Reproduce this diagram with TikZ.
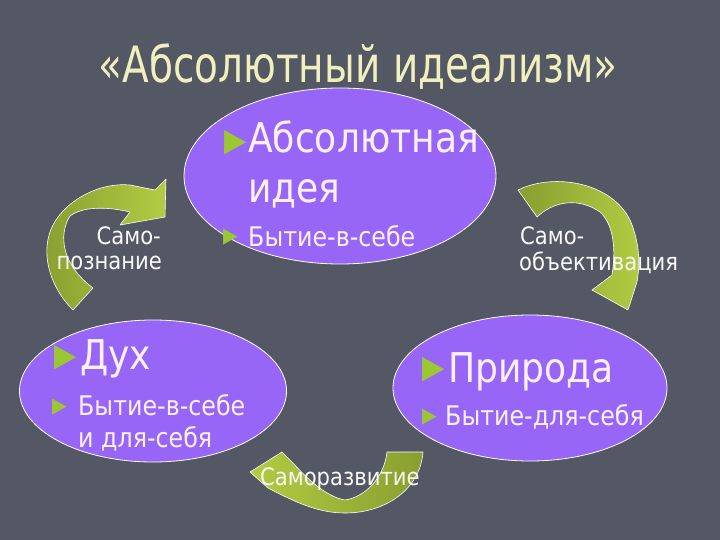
\documentclass[tikz,border=0pt]{standalone}
\usepackage{graphicx}
\usepackage{fontspec}
\setmainfont{DejaVu Sans}[FakeStretch=0.88]
\newfontfamily\titlefont{DejaVu Sans}[FakeStretch=0.78]
\newfontfamily\bulletfont{DejaVu Sans}
\usetikzlibrary{shapes.geometric}
\definecolor{bg}{RGB}{84,87,100}
\definecolor{ell}{RGB}{152,102,246}
\definecolor{titlec}{RGB}{240,240,190}
\definecolor{txt}{RGB}{255,240,255}
\definecolor{bul}{RGB}{155,200,50}
\definecolor{arrowdark}{RGB}{136,158,48}
\definecolor{arrowlight}{RGB}{178,204,66}
\newcommand{\tallbul}{\scalebox{1}[1.7]{►}}
\begin{document}
\begin{tikzpicture}[x=1bp,y=-1bp,
  oval/.style={ellipse, draw=white, line width=0.8bp, fill=ell, inner sep=0},
  big/.style={anchor=base west, inner sep=0, text=txt, font=\fontsize{41bp}{41bp}\selectfont},
  small/.style={anchor=base west, inner sep=0, text=txt, font=\fontsize{27bp}{27bp}\selectfont},
  lbl/.style={inner sep=0, text=white!95!gray, font=\fontsize{24bp}{24bp}\selectfont},
  bigbul/.style={anchor=center, inner sep=0, text=bul, font=\bulletfont\fontsize{29bp}{29bp}\selectfont},
  smallbul/.style={anchor=center, inner sep=0, text=bul, font=\bulletfont\fontsize{19bp}{19bp}\selectfont},
  garrow/.style={draw=white, line width=0.6bp, line join=round}
]
\useasboundingbox (0,0) rectangle (720,540);
\fill[bg] (0,0) rectangle (720,540);

% title
\node[anchor=base, inner sep=0, text=titlec, font=\titlefont\fontsize{50bp}{50bp}\selectfont] (title) at (358,83) {«Абсолютный идеализм»};

% ellipses
\node[oval, minimum width=312bp, minimum height=176bp] (idea) at (340,176) {};
\node[oval, minimum width=267bp, minimum height=142bp] (dukh) at (153,391) {};
\node[oval, minimum width=274bp, minimum height=146bp] (priroda) at (530,388) {};

% arrows
\path[garrow, left color=arrowdark, right color=arrowlight] (73,310) .. controls (48,285) and (40,250) .. (53,225) .. controls (66,200) and (100,182) .. (130,185) -- (155,190) -- (166,179) -- (165,217) -- (120,225) -- (130,212) .. controls (105,206) and (82,207) .. (70,216) .. controls (58,235) and (62,265) .. (93,288) -- cycle;
\path[garrow, left color=arrowdark, right color=arrowlight] (518,190) .. controls (555,172) and (612,183) .. (630,220) .. controls (640,243) and (640,265) .. (637,282) -- (628,310) -- (592,290) -- (612,275) .. controls (616,250) and (614,225) .. (600,212) .. controls (580,198) and (555,200) .. (537,217) -- cycle;
\path[garrow, left color=arrowlight, right color=arrowdark] (387,452) -- (423,452) .. controls (420,490) and (385,513) .. (345,513) .. controls (318,513) and (295,502) .. (268,488) -- (250,472) -- (282,452) -- (293,463) .. controls (310,482) and (328,497) .. (345,500) .. controls (365,497) and (384,478) .. (387,452) -- cycle;

% top ellipse text
\node[bigbul] (b1) at (236,143) {\tallbul};
\node[big] (t1) at (248,153) {Абсолютная};
\node[big] (t2) at (248,203) {идея};
\node[smallbul] (b2) at (231,237) {\tallbul};
\node[small] (t3) at (248,247) {Бытие-в-себе};

% left ellipse text
\node[bigbul] (b3) at (66,358) {\tallbul};
\node[big] (l1) at (80,369) {Дух};
\node[smallbul] (b4) at (60,407) {\tallbul};
\node[small] (l2) at (78,415) {Бытие-в-себе};
\node[small] (l3) at (78,447) {и для-себя};

% right ellipse text
\node[bigbul] (b5) at (434,370) {\tallbul};
\node[big] (r1) at (448,382) {Природа};
\node[smallbul] (b6) at (430,417) {\tallbul};
\node[small] (r2) at (445,425) {Бытие-для-себя};

% labels
\node[lbl, anchor=base east] (sp1) at (161,245) {Само-};
\node[lbl, anchor=base east] (sp2) at (162,270) {познание};
\node[lbl, anchor=base west] (so1) at (520,245) {Само-};
\node[lbl, anchor=base west] (so2) at (519,271) {объективация};
\node[lbl, anchor=base west] (sr) at (260,485) {Саморазвитие};
\end{tikzpicture}
\end{document}
